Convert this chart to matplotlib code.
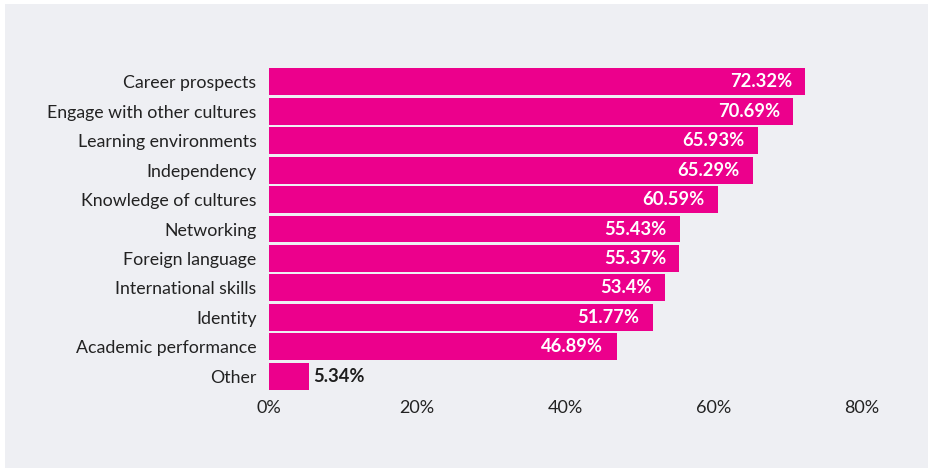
import matplotlib.pyplot as plt
from matplotlib.patches import Rectangle

# Survey answers, share of respondents (%)
categories = [
    "Career prospects",
    "Engage with other cultures",
    "Learning environments",
    "Independency",
    "Knowledge of cultures",
    "Networking",
    "Foreign language",
    "International skills",
    "Identity",
    "Academic performance",
    "Other",
]
shares = [72.32, 70.69, 65.93, 65.29, 60.59, 55.43, 55.37, 53.4, 51.77, 46.89, 5.34]
x_ticks = [0, 20, 40, 60, 80]

bar_color = "#ec008c"
panel_color = "#eeeff3"

plt.rcParams["font.family"] = ["Lato", "DejaVu Sans"]

W, H = 931, 471
fig = plt.figure(figsize=(W / 100, H / 100), dpi=100)
fig.patch.set_facecolor("white")

# grey panel behind the chart
fig.patches.append(Rectangle((5 / W, 1 - 468 / H), 923 / W, 464 / H,
                             transform=fig.transFigure, facecolor=panel_color,
                             edgecolor="none", zorder=-10))

ax = fig.add_axes([269 / W, 1 - 390 / H, (862 - 269) / W, (390 - 68) / H])
ax.set_facecolor("none")
ax.set_zorder(5)

ypos = list(range(len(categories)))
ax.barh(ypos, shares, height=0.915, color=bar_color, zorder=2)

for y, v in zip(ypos, shares):
    label = f"{v:g}%"
    if v > 15:
        ax.annotate(label, (v, y), xytext=(-9.5, 0), textcoords="offset points",
                    ha="right", va="center", color="white", fontsize=13.2,
                    fontweight="bold")
    else:
        ax.annotate(label, (v, y), xytext=(3.5, 0), textcoords="offset points",
                    ha="left", va="center", color="#1e1e1e", fontsize=13.2,
                    fontweight="bold")

ax.set_xlim(0, 80)
ax.set_ylim(len(categories) - 1 + 0.46, -0.46)
ax.set_yticks(ypos)
ax.set_yticklabels(categories, fontsize=12.8, color="#222222")
ax.set_xticks(x_ticks)
ax.set_xticklabels([f"{t}%" for t in x_ticks], fontsize=13, color="#222222")
ax.tick_params(axis="both", length=0)
ax.tick_params(axis="y", pad=9)
ax.tick_params(axis="x", pad=7)
for s in ax.spines.values():
    s.set_visible(False)

fig.savefig("out.png", dpi=100)
